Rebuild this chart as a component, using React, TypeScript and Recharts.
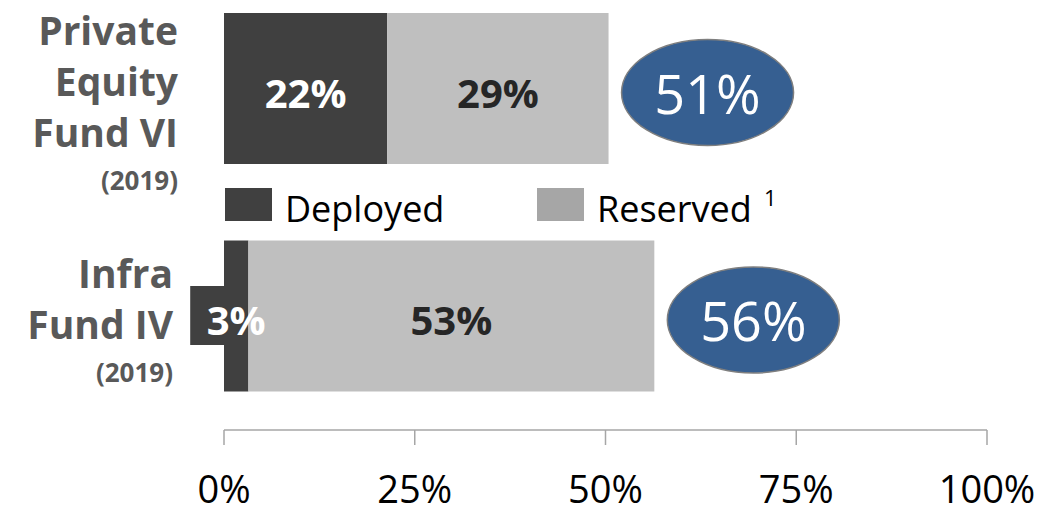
import { Bar, BarChart, LabelList, Legend, XAxis, YAxis } from "recharts";

const funds = ["Private Equity Fund VI (2019)", "Infra Fund IV (2019)"];
const fundLines = [
  ["Private", "Equity", "Fund VI", "(2019)"],
  ["Infra", "Fund IV", "(2019)"],
];
const deployed = [21.4, 3.2];
const reserved = [29.0, 53.2];
const deployedLabels = ["22%", "3%"];
const reservedLabels = ["29%", "53%"];
const totalLabels = ["51%", "56%"];
const seriesNames = ["Deployed", "Reserved"];
const legendNotes = ["", "1"];
const xTicks = [0, 25, 50, 75, 100];

const data = funds.map((fund, i) => ({
  fund,
  deployed: deployed[i],
  reserved: reserved[i],
  deployedLabel: deployedLabels[i],
  reservedLabel: reservedLabels[i],
  totalLabel: totalLabels[i],
}));

const font = "'Open Sans', sans-serif";
const darkGrey = "#404040";
const lightGrey = "#bfbfbf";
const swatchColors = [darkGrey, "#a6a6a6"];
const ovalBlue = "#365f91";

const FundTick = (props: any) => {
  const { y, payload } = props;
  const idx = funds.indexOf(payload.value);
  const lines = fundLines[idx] ?? [];
  // first baseline relative to the band centre, right edge differs a bit per block
  let offset = idx === 0 ? -44 : -28;
  const right = idx === 0 ? 178 : 173;
  return (
    <g>
      {lines.map((line, i) => {
        const small = line.startsWith("(");
        if (i > 0) offset += small ? 43 : 51;
        return (
          <text
            key={line + i}
            x={right}
            y={y + offset}
            textAnchor="end"
            fill="#595959"
            fontFamily={font}
            fontWeight={700}
            fontSize={small ? 26 : 39}
          >
            {line}
          </text>
        );
      })}
    </g>
  );
};

const DeployedLabel = (props: any) => {
  const vb = props.viewBox ?? props;
  const { x, y, width, height } = vb;
  const cx = x + width / 2;
  const cy = y + height / 2;
  const narrow = width < 60;
  return (
    <g>
      {narrow && (
        <rect x={cx - 46} y={cy - 30} width={x - (cx - 46)} height={59} fill={darkGrey} />
      )}
      <text
        x={cx}
        y={cy + 19}
        textAnchor="middle"
        fill="#fff"
        fontFamily={font}
        fontWeight={700}
        fontSize={40}
      >
        {props.value}
      </text>
    </g>
  );
};

const ReservedLabel = (props: any) => {
  const vb = props.viewBox ?? props;
  const { x, y, width, height } = vb;
  return (
    <text
      x={x + width / 2}
      y={y + height / 2 + 19}
      textAnchor="middle"
      fill="#262626"
      fontFamily={font}
      fontWeight={700}
      fontSize={40}
    >
      {props.value}
    </text>
  );
};

const TotalOval = (props: any) => {
  const vb = props.viewBox ?? props;
  const { x, y, width, height } = vb;
  const cx = x + width + 99;
  const cy = y + height / 2 + 4;
  return (
    <g>
      <ellipse cx={cx} cy={cy} rx={86} ry={53} fill={ovalBlue} stroke="#7f7f7f" strokeWidth={1.5} />
      <text
        x={cx}
        y={cy + 21}
        textAnchor="middle"
        fill="#fff"
        fontFamily={font}
        fontSize={54}
      >
        {props.value}
      </text>
    </g>
  );
};

const FundLegend = () => (
  <svg width={700} height={60} style={{ display: "block", overflow: "visible" }}>
    {seriesNames.map((name, i) => (
      <g key={name} transform={`translate(${i * 312}, 0)`}>
        <rect x={1} y={3} width={47} height={33} fill={swatchColors[i]} />
        <text x={61} y={37} fill="#000" fontFamily={font} fontSize={36}>
          {name}
        </text>
        {legendNotes[i] && (
          <text x={61 + 155 + 12} y={21} fill="#000" fontFamily={font} fontSize={22}>
            {legendNotes[i]}
          </text>
        )}
      </g>
    ))}
  </svg>
);

export default function App() {
  return (
    <div style={{ position: "absolute", top: 0, left: 0, width: 1048, height: 513, background: "#fff" }}>
      <BarChart
        width={1048}
        height={513}
        data={data}
        layout="vertical"
        barSize={151}
        margin={{ top: -25, right: 61, bottom: 0, left: 0 }}
      >
        <XAxis
          type="number"
          domain={[0, 100]}
          ticks={xTicks}
          interval={0}
          tickFormatter={(v) => `${v}%`}
          height={83}
          tickSize={15}
          tickMargin={31}
          axisLine={{ stroke: "#a6a6a6", strokeWidth: 1.5 }}
          tickLine={{ stroke: "#a6a6a6", strokeWidth: 1.5 }}
          tick={{ fill: "#000", fontSize: 38, fontFamily: font }}
        />
        <YAxis
          type="category"
          dataKey="fund"
          width={224}
          interval={0}
          axisLine={false}
          tickLine={false}
          tick={<FundTick />}
        />
        <Legend
          layout="horizontal"
          verticalAlign="middle"
          align="center"
          wrapperStyle={{ top: 185, left: 224, width: 700, height: 60 }}
          content={() => <FundLegend />}
        />
        <Bar dataKey="deployed" name={seriesNames[0]} stackId="a" fill={darkGrey} isAnimationActive={false}>
          <LabelList dataKey="deployedLabel" content={<DeployedLabel />} />
        </Bar>
        <Bar dataKey="reserved" name={seriesNames[1]} stackId="a" fill={lightGrey} isAnimationActive={false}>
          <LabelList dataKey="reservedLabel" content={<ReservedLabel />} />
          <LabelList dataKey="totalLabel" content={<TotalOval />} />
        </Bar>
      </BarChart>
    </div>
  );
}
